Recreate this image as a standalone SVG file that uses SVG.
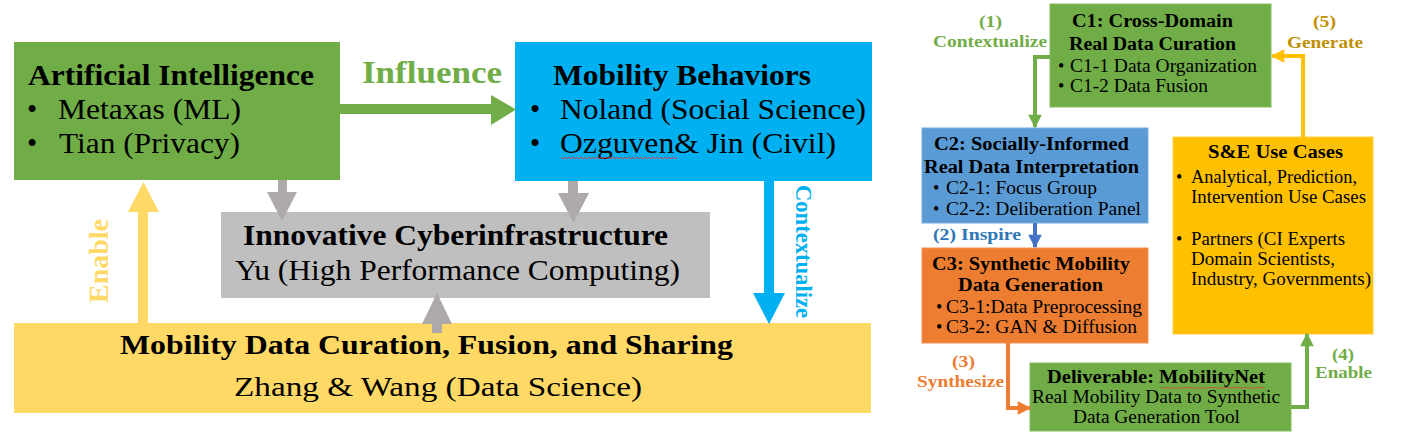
<svg xmlns="http://www.w3.org/2000/svg" width="1412" height="437" viewBox="0 0 1412 437">
<style>
text{font-family:"Liberation Serif","Times New Roman",serif;fill:#000}
.b{font-weight:bold}
.L{font-size:29px}
.M{font-size:28px}
.S{font-size:18px}
.lab{font-size:17px;font-weight:bold}
.conn{fill:none;stroke-width:4}
</style>
<defs>
<marker id="hG" viewBox="0 0 10 10" refX="9" refY="5" markerWidth="3.6" markerHeight="3.4" orient="auto" markerUnits="strokeWidth"><path d="M0,0L10,5L0,10z" fill="#70AD47"/></marker>
<marker id="hY" viewBox="0 0 10 10" refX="9" refY="5" markerWidth="3.6" markerHeight="3.4" orient="auto" markerUnits="strokeWidth"><path d="M0,0L10,5L0,10z" fill="#FFC000"/></marker>
<marker id="hB" viewBox="0 0 10 10" refX="9" refY="5" markerWidth="3.6" markerHeight="3.4" orient="auto" markerUnits="strokeWidth"><path d="M0,0L10,5L0,10z" fill="#4472C4"/></marker>
<marker id="hO" viewBox="0 0 10 10" refX="9" refY="5" markerWidth="3.6" markerHeight="3.4" orient="auto" markerUnits="strokeWidth"><path d="M0,0L10,5L0,10z" fill="#ED7D31"/></marker>
</defs>
<rect width="1412" height="437" fill="#fff"/>

<!-- Left diagram nodes -->
<g id="ai">
<rect x="14" y="42" width="326" height="138" fill="#70AD47"/>
<text class="b L" x="28" y="85" textLength="286" lengthAdjust="spacingAndGlyphs">Artificial Intelligence</text>
<text class="L" x="27" y="119">•</text>
<text class="L" x="58" y="119" textLength="183" lengthAdjust="spacingAndGlyphs">Metaxas (ML)</text>
<text class="L" x="27" y="153">•</text>
<text class="L" x="59" y="153" textLength="181" lengthAdjust="spacingAndGlyphs">Tian (Privacy)</text>
</g>
<g id="mobility-behaviors">
<rect x="515" y="42" width="357" height="139" fill="#00B0F0"/>
<text class="b L" x="553" y="85" textLength="258" lengthAdjust="spacingAndGlyphs">Mobility Behaviors</text>
<text class="L" x="530" y="119">•</text>
<text class="L" x="560" y="119" textLength="306" lengthAdjust="spacingAndGlyphs">Noland (Social Science)</text>
<text class="L" x="530" y="153">•</text>
<text class="L" x="560" y="153" textLength="276" lengthAdjust="spacingAndGlyphs">Ozguven&amp; Jin (Civil)</text>
<path d="M561,157 l2,2 l2,-2 l2,2 l2,-2 l2,2 l2,-2 l2,2 l2,-2 l2,2 l2,-2 l2,2 l2,-2 l2,2 l2,-2 l2,2 l2,-2 l2,2 l2,-2 l2,2 l2,-2 l2,2 l2,-2 l2,2 l2,-2 l2,2 l2,-2 l2,2 l2,-2 l2,2 l2,-2 l2,2 l2,-2 l2,2 l2,-2 l2,2 l2,-2 l2,2 l2,-2 l2,2 l2,-2 l2,2 l2,-2 l2,2 l2,-2 l2,2 l2,-2 l2,2 l2,-2 l2,2 l2,-2 l2,2 l2,-2 l2,2 l2,-2 l2,2 l2,-2 l2,2 l2,-2" fill="none" stroke="#E03030" stroke-width="0.8"/>
</g>
<g id="cyberinfrastructure">
<rect x="221" y="212" width="489" height="86" fill="#BFBFBF"/>
<text class="b L" x="243" y="245" textLength="425" lengthAdjust="spacingAndGlyphs">Innovative Cyberinfrastructure</text>
<text class="L" x="235" y="280" textLength="445" lengthAdjust="spacingAndGlyphs">Yu (High Performance Computing)</text>
</g>
<g id="data-curation">
<rect x="14" y="323" width="857" height="90" fill="#FFD966"/>
<text class="b M" x="120" y="354" textLength="613" lengthAdjust="spacingAndGlyphs">Mobility Data Curation, Fusion, and Sharing</text>
<text class="M" x="234" y="396" textLength="408" lengthAdjust="spacingAndGlyphs">Zhang &amp; Wang (Data Science)</text>
</g>

<!-- Right diagram nodes -->
<g id="c1">
<rect x="1050" y="4" width="221" height="103" fill="#70AD47" stroke="#86BC63" stroke-width="1"/>
<text class="b S" x="1072" y="27" textLength="161" lengthAdjust="spacingAndGlyphs">C1: Cross-Domain</text>
<text class="b S" x="1069" y="50" textLength="167" lengthAdjust="spacingAndGlyphs">Real Data Curation</text>
<text class="S" x="1058" y="72">•</text>
<text class="S" x="1070" y="72" textLength="187" lengthAdjust="spacingAndGlyphs">C1-1 Data Organization</text>
<text class="S" x="1058" y="92">•</text>
<text class="S" x="1070" y="92" textLength="138" lengthAdjust="spacingAndGlyphs">C1-2 Data Fusion</text>
</g>
<g id="c2">
<rect x="922" y="128" width="226" height="95" fill="#5B9BD5" stroke="#76ABDD" stroke-width="1"/>
<text class="b S" x="934" y="150" textLength="195" lengthAdjust="spacingAndGlyphs">C2: Socially-Informed</text>
<text class="b S" x="924" y="173" textLength="215" lengthAdjust="spacingAndGlyphs">Real Data Interpretation</text>
<text class="S" x="933" y="194">•</text>
<text class="S" x="946" y="194" textLength="151" lengthAdjust="spacingAndGlyphs">C2-1: Focus Group</text>
<text class="S" x="933" y="215">•</text>
<text class="S" x="946" y="215" textLength="195" lengthAdjust="spacingAndGlyphs">C2-2: Deliberation Panel</text>
</g>
<g id="c3">
<rect x="922" y="248" width="226" height="95" fill="#ED7D31" stroke="#F0925A" stroke-width="1"/>
<text class="b S" x="932" y="270" textLength="198" lengthAdjust="spacingAndGlyphs">C3: Synthetic Mobility</text>
<text class="b S" x="958" y="291" textLength="145" lengthAdjust="spacingAndGlyphs">Data Generation</text>
<text class="S" x="936" y="313">•</text>
<text class="S" x="946" y="313" textLength="196" lengthAdjust="spacingAndGlyphs">C3-1:Data Preprocessing</text>
<text class="S" x="936" y="333">•</text>
<text class="S" x="946" y="333" textLength="191" lengthAdjust="spacingAndGlyphs">C3-2: GAN &amp; Diffusion</text>
</g>
<g id="use-cases">
<rect x="1173" y="137" width="200" height="197" fill="#FFC000" stroke="#FFCD40" stroke-width="1"/>
<text class="b S" x="1208" y="158" textLength="135" lengthAdjust="spacingAndGlyphs">S&amp;E Use Cases</text>
<text class="S" x="1176" y="183">•</text>
<text class="S" x="1191" y="183" textLength="166" lengthAdjust="spacingAndGlyphs">Analytical, Prediction,</text>
<text class="S" x="1191" y="203" textLength="175" lengthAdjust="spacingAndGlyphs">Intervention Use Cases</text>
<text class="S" x="1176" y="245">•</text>
<text class="S" x="1191" y="245" textLength="154" lengthAdjust="spacingAndGlyphs">Partners (CI Experts</text>
<text class="S" x="1191" y="265" textLength="144" lengthAdjust="spacingAndGlyphs">Domain Scientists,</text>
<text class="S" x="1191" y="285" textLength="180" lengthAdjust="spacingAndGlyphs">Industry, Governments)</text>
</g>
<g id="deliverable">
<rect x="1030" y="363" width="261" height="68" fill="#70AD47" stroke="#86BC63" stroke-width="1"/>
<text class="b S" x="1047" y="383" textLength="218" lengthAdjust="spacingAndGlyphs">Deliverable: MobilityNet</text>
<path d="M1161,387 l1.5,1.5 l1.5,-1.5 l1.5,1.5 l1.5,-1.5 l1.5,1.5 l1.5,-1.5 l1.5,1.5 l1.5,-1.5 l1.5,1.5 l1.5,-1.5 l1.5,1.5 l1.5,-1.5 l1.5,1.5 l1.5,-1.5 l1.5,1.5 l1.5,-1.5 l1.5,1.5 l1.5,-1.5 l1.5,1.5 l1.5,-1.5 l1.5,1.5 l1.5,-1.5 l1.5,1.5 l1.5,-1.5 l1.5,1.5 l1.5,-1.5 l1.5,1.5 l1.5,-1.5 l1.5,1.5 l1.5,-1.5 l1.5,1.5 l1.5,-1.5 l1.5,1.5 l1.5,-1.5 l1.5,1.5 l1.5,-1.5 l1.5,1.5 l1.5,-1.5 l1.5,1.5 l1.5,-1.5 l1.5,1.5 l1.5,-1.5 l1.5,1.5 l1.5,-1.5 l1.5,1.5 l1.5,-1.5 l1.5,1.5 l1.5,-1.5 l1.5,1.5 l1.5,-1.5 l1.5,1.5 l1.5,-1.5 l1.5,1.5 l1.5,-1.5 l1.5,1.5 l1.5,-1.5 l1.5,1.5 l1.5,-1.5 l1.5,1.5 l1.5,-1.5 l1.5,1.5 l1.5,-1.5 l1.5,1.5 l1.5,-1.5 l1.5,1.5 l1.5,-1.5 l1.5,1.5 l1.5,-1.5 l1.5,1.5" fill="none" stroke="#E03030" stroke-width="0.7"/>
<text class="S" x="1032" y="403" textLength="248" lengthAdjust="spacingAndGlyphs">Real Mobility Data to Synthetic</text>
<text class="S" x="1073" y="423" textLength="167" lengthAdjust="spacingAndGlyphs">Data Generation Tool</text>
</g>

<!-- Connectors -->
<g id="connectors">
<!-- Influence -->
<polygon points="340,104 491,104 491,95 516,109.5 491,125 491,114 340,114" fill="#70AD47"/>
<text class="b" x="362" y="83" font-size="31" fill="#70AD47" style="fill:#70AD47" textLength="140" lengthAdjust="spacingAndGlyphs">Influence</text>
<!-- AI to CI -->
<polygon points="278,180 287,180 287,192 297,192 282,221 267,192 278,192" fill="#AEAAAA"/>
<!-- MB to CI -->
<polygon points="568,181 578,181 578,193 589,193 573.5,223 558,193 568,193" fill="#AEAAAA"/>
<!-- Data to CI -->
<polygon points="432,333 442,333 442,324 452,324 437,293 422,324 432,324" fill="#AEAAAA"/>
<!-- Enable -->
<polygon points="138,323 148,323 148,212 159,212 143.5,182 128,212 138,212" fill="#FFD966"/>
<text class="b" transform="translate(108,303) rotate(-90)" font-size="27" style="fill:#FFD966" textLength="84" lengthAdjust="spacingAndGlyphs">Enable</text>
<!-- Contextualize -->
<polygon points="764,181 774,181 774,293 785,293 769,324 753,293 764,293" fill="#00B0F0"/>
<text class="b" transform="translate(796,185) rotate(90)" font-size="23" style="fill:#00B0F0" textLength="133" lengthAdjust="spacingAndGlyphs">Contextualize</text>

<!-- Right side -->
<polyline class="conn" points="1050,57 1035,57 1035,127" stroke="#70AD47" marker-end="url(#hG)"/>
<text class="lab" x="979" y="27" style="fill:#70AD47" textLength="23" lengthAdjust="spacingAndGlyphs">(1)</text>
<text class="lab" x="933" y="47" style="fill:#70AD47" textLength="114" lengthAdjust="spacingAndGlyphs">Contextualize</text>

<polyline class="conn" points="1303,137 1303,56 1272,56" stroke="#FFC000" marker-end="url(#hY)"/>
<text class="lab" x="1313" y="27" style="fill:#BF9000" textLength="23" lengthAdjust="spacingAndGlyphs">(5)</text>
<text class="lab" x="1287" y="48" style="fill:#BF9000" textLength="76" lengthAdjust="spacingAndGlyphs">Generate</text>

<polyline class="conn" points="1035,223 1035,247" stroke="#4472C4" marker-end="url(#hB)"/>
<text class="lab" x="933" y="240" style="fill:#2E75B6" textLength="88" lengthAdjust="spacingAndGlyphs">(2) Inspire</text>

<polyline class="conn" points="1008,343 1008,408 1030,408" stroke="#ED7D31" marker-end="url(#hO)"/>
<text class="lab" x="952" y="367" style="fill:#ED7D31" textLength="23" lengthAdjust="spacingAndGlyphs">(3)</text>
<text class="lab" x="917" y="387" style="fill:#ED7D31" textLength="87" lengthAdjust="spacingAndGlyphs">Synthesize</text>

<polyline class="conn" points="1291,407 1307,407 1307,334" stroke="#70AD47" marker-end="url(#hG)"/>
<text class="lab" x="1332" y="360" style="fill:#70AD47" textLength="22" lengthAdjust="spacingAndGlyphs">(4)</text>
<text class="lab" x="1315" y="378" style="fill:#70AD47" textLength="57" lengthAdjust="spacingAndGlyphs">Enable</text>
</g>
</svg>
